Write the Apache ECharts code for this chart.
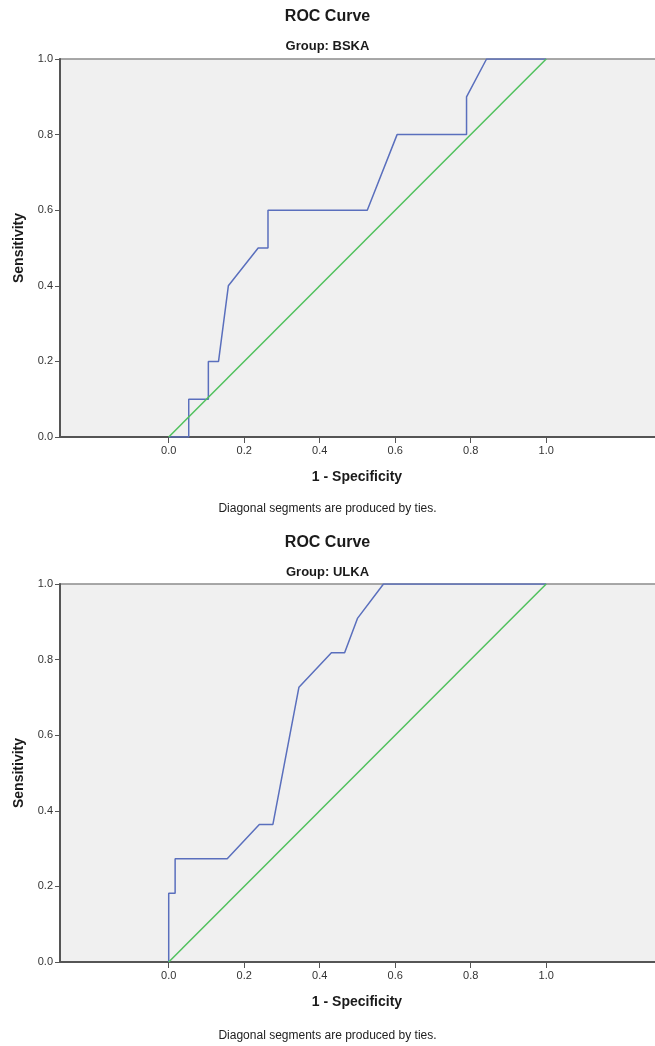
<!DOCTYPE html>
<html>
<head>
<meta charset="utf-8">
<script src="https://cdn.jsdelivr.net/npm/echarts@6/dist/echarts.min.js"></script>
<style>
  html, body { margin: 0; padding: 0; background: #fff; }
  #chart { width: 655px; height: 1046px; }
</style>
</head>
<body>
<div id="chart"></div>
<script>
// ROC 曲线数据
const groups = ["BSKA", "ULKA"];
const bskaFpr = [0, 0.053, 0.053, 0.105, 0.105, 0.132, 0.158, 0.237, 0.263, 0.263, 0.526, 0.605, 0.789, 0.789, 0.842, 1];
const bskaTpr = [0, 0, 0.1, 0.1, 0.2, 0.2, 0.4, 0.5, 0.5, 0.6, 0.6, 0.8, 0.8, 0.9, 1, 1];
const ulkaFpr = [0, 0, 0.017, 0.017, 0.155, 0.24, 0.276, 0.345, 0.431, 0.466, 0.5, 0.569, 1];
const ulkaTpr = [0, 0.182, 0.182, 0.273, 0.273, 0.364, 0.364, 0.727, 0.818, 0.818, 0.909, 1, 1];
// 参考线
const refFpr = [0, 1];
const refTpr = [0, 1];
const tickValues = [0, 0.2, 0.4, 0.6, 0.8, 1];

const FONT = "Liberation Sans";
const fmt = (v) => v.toFixed(1);
const pairs = (xs, ys) => xs.map((x, i) => [x, ys[i]]);

const chart = echarts.init(document.getElementById("chart"));

// 两个面板的位置
const panels = [
  { top: 59, titleTop: 4, subTop: 35, nameY: 477, noteY: 509 },
  { top: 584, titleTop: 530, subTop: 561, nameY: 1002, noteY: 1036 }
];

const titles = [];
const grids = [];
const xAxes = [];
const yAxes = [];
const graphics = [];

panels.forEach((p, i) => {
  titles.push({
    text: "ROC Curve",
    left: "center",
    top: p.titleTop,
    textStyle: { fontFamily: FONT, fontSize: 16, fontWeight: "bold", color: "#1a1a1a" }
  });
  titles.push({
    text: "Group: " + groups[i],
    left: "center",
    top: p.subTop,
    textStyle: { fontFamily: FONT, fontSize: 13, fontWeight: "bold", color: "#1a1a1a" }
  });
  grids.push({
    left: 60,
    top: p.top,
    width: 600,
    height: 378,
    containLabel: false,
    outerBoundsMode: "none",
    show: true,
    backgroundColor: "#f0f0f0",
    borderColor: "#8c8c8c",
    borderWidth: 1.5
  });
  xAxes.push({
    type: "value",
    gridIndex: i,
    min: -0.288,
    max: 1.3015,
    splitLine: { show: false },
    axisLine: { show: true, onZero: false, lineStyle: { color: "#555", width: 2 } },
    axisTick: { show: true, customValues: tickValues, length: 6, lineStyle: { color: "#555" } },
    axisLabel: { customValues: tickValues, formatter: fmt, color: "#333", fontFamily: FONT, fontSize: 11, margin: 8 }
  });
  yAxes.push({
    type: "value",
    gridIndex: i,
    min: 0,
    max: 1,
    interval: 0.2,
    name: "Sensitivity",
    nameLocation: "middle",
    nameGap: 34,
    nameTextStyle: { fontFamily: FONT, fontSize: 14, fontWeight: "bold", color: "#1a1a1a" },
    splitLine: { show: false },
    axisLine: { show: true, onZero: false, lineStyle: { color: "#555", width: 2 } },
    axisTick: { show: true, length: 5, lineStyle: { color: "#555" } },
    axisLabel: { formatter: fmt, color: "#333", fontFamily: FONT, fontSize: 11, margin: 7 }
  });
  graphics.push({
    type: "text",
    x: 357,
    y: p.nameY,
    style: { text: "1 - Specificity", font: "bold 14px " + FONT, fill: "#1a1a1a", textAlign: "center", textVerticalAlign: "middle" }
  });
  graphics.push({
    type: "text",
    x: 327.5,
    y: p.noteY,
    style: { text: "Diagonal segments are produced by ties.", font: "12px " + FONT, fill: "#222", textAlign: "center", textVerticalAlign: "middle" }
  });
});

const curveStyle = { color: "#5a6fbd", width: 1.5 };
const refStyle = { color: "#4fc05c", width: 1.5 };

const option = {
  animation: false,
  title: titles,
  grid: grids,
  xAxis: xAxes,
  yAxis: yAxes,
  graphic: graphics,
  series: [
    { type: "line", xAxisIndex: 0, yAxisIndex: 0, data: pairs(bskaFpr, bskaTpr), showSymbol: false, lineStyle: curveStyle, z: 3 },
    { type: "line", xAxisIndex: 0, yAxisIndex: 0, data: pairs(refFpr, refTpr), showSymbol: false, lineStyle: refStyle, z: 4 },
    { type: "line", xAxisIndex: 1, yAxisIndex: 1, data: pairs(ulkaFpr, ulkaTpr), showSymbol: false, lineStyle: curveStyle, z: 3 },
    { type: "line", xAxisIndex: 1, yAxisIndex: 1, data: pairs(refFpr, refTpr), showSymbol: false, lineStyle: refStyle, z: 4 }
  ]
};

chart.setOption(option);
</script>
</body>
</html>
